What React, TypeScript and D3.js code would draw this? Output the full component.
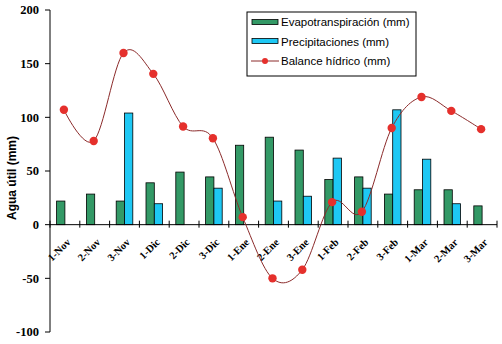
import React from "react";
import * as d3 from "d3";

const categories = ["1-Nov","2-Nov","3-Nov","1-Dic","2-Dic","3-Dic","1-Ene","2-Ene","3-Ene","1-Feb","2-Feb","3-Feb","1-Mar","2-Mar","3-Mar"];
const evapo = [22, 28.5, 22, 39, 49, 44.5, 74, 81.5, 69.5, 42, 44.5, 28.5, 32.5, 32.5, 17.5];
const precip = [0, 0, 104, 19.5, 0, 34, 0, 22, 26.5, 62, 34, 107, 61, 19.5, 0];
const balance = [107, 78, 160, 140.5, 91.5, 80.5, 7, -50, -42, 21, 12, 90, 119, 106, 89];
const yTicks = [-100, -50, 0, 50, 100, 150, 200];
const legendLabels = ["Evapotranspiración (mm)", "Precipitaciones (mm)", "Balance hídrico (mm)"];

const W = 502, H = 344;
const GREEN = "#339966";
const BLUE = "#1ec8f4";
const LINE = "#8b2a2a";
const MARK = "#e5302c";

export default function App() {
  const x = d3.scaleBand<string>().domain(categories).range([50, 497]).paddingInner(0).paddingOuter(0);
  const y = d3.scaleLinear().domain([-100, 200]).range([332, 10]);
  const bw = 8.3;
  const y0 = y(0);
  const cx = (c: string) => (x(c) as number) + x.bandwidth() / 2;
  const line = d3.line<number>()
    .x((_, i) => cx(categories[i]) - 1)
    .y((d) => y(d))
    .curve(d3.curveCardinal.tension(0));
  const serif = "'Liberation Serif', 'DejaVu Serif', serif";
  const sans = "'Liberation Sans', Arial, sans-serif";
  return (
    <svg width={W} height={H} style={{ position: "fixed", left: 0, top: 0, background: "#fff" }}>
      <rect x={0} y={0} width={W} height={H} fill="#fff" />
      {/* bars */}
      {categories.map((c, i) => (
        <g key={c}>
          {evapo[i] > 0 && (
            <rect x={cx(c) - bw} y={y(evapo[i])} width={bw} height={y0 - y(evapo[i])} fill={GREEN} stroke="#000" strokeWidth={0.8} />
          )}
          {precip[i] > 0 && (
            <rect x={cx(c)} y={y(precip[i])} width={bw} height={y0 - y(precip[i])} fill={BLUE} stroke="#000" strokeWidth={0.8} />
          )}
        </g>
      ))}
      {/* y axis */}
      <line x1={50} x2={50} y1={y(200)} y2={y(-100)} stroke="#000" strokeWidth={1} />
      {yTicks.map((t) => (
        <g key={t}>
          <line x1={45} x2={50} y1={y(t)} y2={y(t)} stroke="#000" />
          <text x={39} y={y(t)} dy="0.35em" textAnchor="end" fontFamily={serif} fontWeight="bold" fontSize={12.5}>{t}</text>
        </g>
      ))}
      {/* x axis */}
      <line x1={50} x2={497} y1={y0} y2={y0} stroke="#000" />
      {d3.range(categories.length + 1).map((i) => {
        const xx = 50 + i * x.bandwidth();
        return <line key={i} x1={xx} x2={xx} y1={y0 - 4} y2={y0 + 3} stroke="#000" />;
      })}
      {categories.map((c) => (
        <text key={c} transform={`translate(${cx(c) + 1},${y0 + 13}) rotate(-45)`} dy="0.7em" textAnchor="end" fontFamily={serif} fontWeight="bold" fontSize={10.5}>{c}</text>
      ))}
      {/* line */}
      <path d={line(balance) || ""} fill="none" stroke={LINE} strokeWidth={1} />
      {balance.map((v, i) => (
        <circle key={i} cx={cx(categories[i]) - 1} cy={y(v)} r={4.2} fill={MARK} />
      ))}
      {/* y label */}
      <text transform={`translate(16,178) rotate(-90)`} textAnchor="middle" fontFamily={sans} fontWeight="bold" fontSize={12}>Agua útil (mm)</text>
      {/* legend */}
      <rect x={247} y={12} width={169} height={64} fill="#fff" stroke="#000" strokeWidth={1} />
      <rect x={252} y={19.5} width={26} height={5} fill={GREEN} stroke="#000" strokeWidth={0.8} />
      <rect x={252} y={38.5} width={26} height={5} fill={BLUE} stroke="#000" strokeWidth={0.8} />
      <line x1={251} x2={279} y1={61} y2={61} stroke={LINE} />
      <circle cx={265} cy={61} r={3} fill={MARK} />
      {legendLabels.map((l, i) => (
        <text key={l} x={281} y={22 + i * 19.5} dy="0.35em" fontFamily={sans} fontSize={11.5}>{l}</text>
      ))}
    </svg>
  );
}
